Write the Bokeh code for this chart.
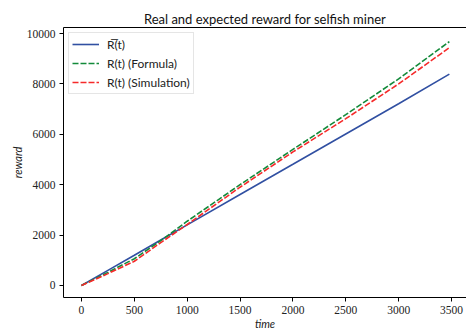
from bokeh.plotting import figure
from bokeh.models import Range1d, LinearAxis, FixedTicker, Legend, LegendItem
from bokeh.embed import file_html
from bokeh.resources import INLINE

# data
time = [0, 250, 500, 750, 1000, 1500, 2000, 2500, 3000, 3480]
real_reward = [0, 600, 1200, 1805, 2405, 3610, 4810, 6015, 7215, 8390]
formula_reward = [0, 520, 1060, 1780, 2550, 4000, 5400, 6780, 8200, 9680]
sim_reward = [0, 470, 960, 1700, 2420, 3900, 5300, 6620, 8000, 9440]
x_ticks = [0, 500, 1000, 1500, 2000, 2500, 3000, 3500]
y_ticks = [0, 2000, 4000, 6000, 8000, 10000]

p = figure(width=466, height=332, output_backend="svg", toolbar_location=None,
           x_range=Range1d(-170, 3642), y_range=Range1d(-478, 10240),
           title="Real and expected reward for selfish miner",
           min_border_left=63, min_border_right=0, min_border_top=27, min_border_bottom=34)
p.outline_line_color = None
p.grid.visible = False
p.background_fill_color = "white"

p.title.align = "center"
p.title.text_font = "Lato"
p.title.text_font_size = "13px"
p.title.text_font_style = "normal"
p.title.text_color = "#111111"
p.title.standoff = 2

for ax in [p.xaxis[0], p.yaxis[0]]:
    ax.major_label_text_font = "Liberation Serif"
    ax.major_label_text_font_size = "11.5px"
    ax.major_label_text_color = "#222222"
    ax.major_tick_in = 0
    ax.major_tick_out = 4
    ax.minor_tick_out = 0
    ax.minor_tick_in = 0
    ax.axis_line_color = "black"
    ax.axis_line_width = 1
    ax.major_tick_line_color = "black"
    ax.axis_label_text_font = "Lato"
    ax.axis_label_text_font_style = "italic"
    ax.axis_label_text_font_size = "11px"
    ax.axis_label_text_color = "#222222"
    ax.major_label_standoff = 4

p.xaxis[0].ticker = FixedTicker(ticks=x_ticks)
p.yaxis[0].ticker = FixedTicker(ticks=y_ticks)
p.xaxis[0].axis_label = "time"
p.yaxis[0].axis_label = "reward"
p.xaxis[0].axis_label_standoff = 0
p.yaxis[0].axis_label_standoff = 0

top = LinearAxis(ticker=FixedTicker(ticks=[]), major_label_text_font_size="0px",
                 major_tick_out=0, major_tick_in=0, minor_tick_out=0, minor_tick_in=0,
                 axis_line_color="black", major_label_standoff=0)
p.add_layout(top, "above")

r1 = p.line(time, real_reward, line_color="#3150a2", line_width=1.6)
r2 = p.line(time, formula_reward, line_color="#138a3a", line_width=1.6, line_dash="6 2")
r3 = p.line(time, sim_reward, line_color="#f52a2a", line_width=1.6, line_dash="6 2")

legend = Legend(items=[LegendItem(label="R\u0305(t)", renderers=[r1]),
                       LegendItem(label="R(t) (Formula)", renderers=[r2]),
                       LegendItem(label="R(t) (Simulation)", renderers=[r3])],
                location="top_left")
legend.margin = 5
legend.padding = 3
legend.spacing = 3
legend.glyph_width = 27
legend.glyph_height = 16
legend.label_height = 16
legend.label_standoff = 8
legend.label_text_font = "Lato"
legend.label_text_font_size = "12px"
legend.label_text_color = "#222222"
legend.border_line_color = "#cccccc"
legend.border_line_width = 1
legend.background_fill_alpha = 0.8
p.add_layout(legend, "center")

open("out.html", "w").write(file_html(p, INLINE))
